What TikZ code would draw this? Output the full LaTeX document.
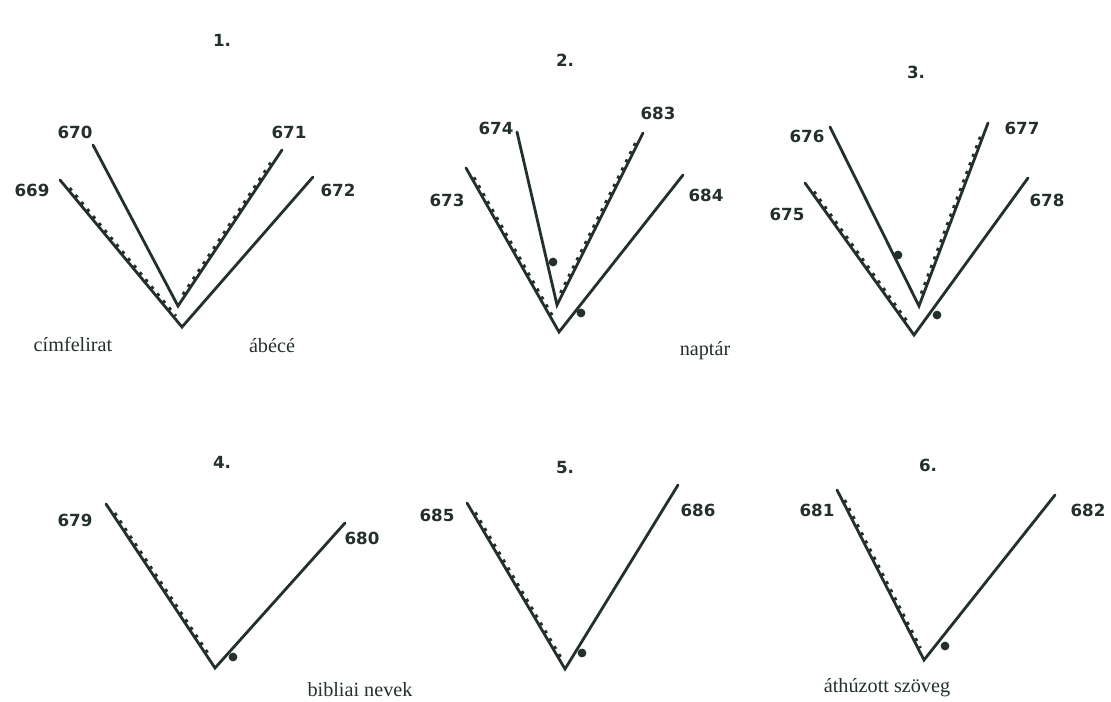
\documentclass[tikz,border=0pt]{standalone}
\usepackage{fontspec}
\setmainfont{Liberation Serif}
\newfontfamily\handfont{DejaVu Sans}
\definecolor{ink}{HTML}{24302C}
\begin{document}
\begin{tikzpicture}[x=0.02cm,y=-0.02cm,
  leaf/.style={draw=ink, line width=1.6pt, line cap=round},
  texture/.style={draw=ink, line width=2pt, dash pattern=on 1.8pt off 3.4pt, shorten <=7pt, shorten >=7pt},
  num/.style={font=\handfont\bfseries\fontsize{9.5}{11}\selectfont, text=ink, inner sep=0},
  capt/.style={font=\fontsize{11.5}{13}\selectfont, text=ink, inner sep=0},
  mark dot/.style={circle, fill=ink, inner sep=0, minimum size=5pt}]
\useasboundingbox[fill=white] (0,0) rectangle (1111,702);
% ---------- 1 ----------
\node[num] (h1) at (222,40) {1.};
\coordinate (a669) at (60,180);
\coordinate (a670) at (93,145);
\coordinate (v1i) at (178,306);
\coordinate (a671) at (282,150);
\coordinate (v1o) at (182,327);
\coordinate (a672) at (313,177);
\draw[leaf] (a670) -- (v1i) -- (a671);
\draw[leaf] (a669) -- (v1o) -- (a672);
\draw[texture] ([shift={(1.6,-1.3)}]a669) -- ([shift={(1.6,-1.3)}]v1o);
\draw[texture] ([shift={(-1.7,-1.1)}]v1i) -- ([shift={(-1.7,-1.1)}]a671);
\node[num] (l670) at (75,132) {670};
\node[num] (l671) at (289,132) {671};
\node[num] (l669) at (32,190) {669};
\node[num] (l672) at (338,190) {672};
\node[capt] (c1) at (73,344) {címfelirat};
\node[capt] (c2) at (272,346) {ábécé};
% ---------- 2 ----------
\node[num] (h2) at (565,60) {2.};
\coordinate (a673) at (466,168);
\coordinate (a674) at (517,132);
\coordinate (v2i) at (557,305);
\coordinate (a683) at (643,133);
\coordinate (v2o) at (559,332);
\coordinate (a684) at (683,175);
\draw[leaf] (a674) -- (v2i) -- (a683);
\draw[leaf] (a673) -- (v2o) -- (a684);
\draw[texture] ([shift={(1.6,-1.2)}]a673) -- ([shift={(1.6,-1.2)}]v2o);
\draw[texture] ([shift={(-1.8,-0.9)}]v2i) -- ([shift={(-1.8,-0.9)}]a683);
\node[mark dot] (d2a) at (553,262) {};
\node[mark dot] (d2b) at (581,313) {};
\node[num] (l674) at (496,128) {674};
\node[num] (l683) at (658,113) {683};
\node[num] (l673) at (447,200) {673};
\node[num] (l684) at (706,195) {684};
\node[capt] (c3) at (705,351) {naptár};
% ---------- 3 ----------
\node[num] (h3) at (916,72) {3.};
\coordinate (a675) at (805,183);
\coordinate (a676) at (830,127);
\coordinate (v3i) at (919,306);
\coordinate (a677) at (988,123);
\coordinate (v3o) at (914,335);
\coordinate (a678) at (1028,178);
\draw[leaf] (a676) -- (v3i) -- (a677);
\draw[leaf] (a675) -- (v3o) -- (a678);
\draw[texture] ([shift={(1.6,-1.3)}]a675) -- ([shift={(1.6,-1.3)}]v3o);
\draw[texture] ([shift={(-1.9,-0.8)}]v3i) -- ([shift={(-1.9,-0.8)}]a677);
\node[mark dot] (d3a) at (898,255) {};
\node[mark dot] (d3b) at (937,315) {};
\node[num] (l676) at (807,136) {676};
\node[num] (l677) at (1022,128) {677};
\node[num] (l675) at (787,214) {675};
\node[num] (l678) at (1047,200) {678};
% ---------- 4 ----------
\node[num] (h4) at (222,462) {4.};
\coordinate (a679) at (106,504);
\coordinate (v4) at (215,668);
\coordinate (a680) at (345,523);
\draw[leaf] (a679) -- (v4) -- (a680);
\draw[texture] ([shift={(1.7,-1.1)}]a679) -- ([shift={(1.7,-1.1)}]v4);
\node[mark dot] (d4) at (233,657) {};
\node[num] (l679) at (75,520) {679};
\node[num] (l680) at (362,538) {680};
\node[capt] (c4) at (360,690) {bibliai nevek};
% ---------- 5 ----------
\node[num] (h5) at (565,468) {5.};
\coordinate (a685) at (467,503);
\coordinate (v5) at (565,669);
\coordinate (a686) at (678,485);
\draw[leaf] (a685) -- (v5) -- (a686);
\draw[texture] ([shift={(1.8,-1.0)}]a685) -- ([shift={(1.8,-1.0)}]v5);
\node[mark dot] (d5) at (582,653) {};
\node[num] (l685) at (437,515) {685};
\node[num] (l686) at (698,510) {686};
% ---------- 6 ----------
\node[num] (h6) at (928,465) {6.};
\coordinate (a681) at (837,490);
\coordinate (v6) at (924,660);
\coordinate (a682) at (1055,495);
\draw[leaf] (a681) -- (v6) -- (a682);
\draw[texture] ([shift={(1.8,-0.9)}]a681) -- ([shift={(1.8,-0.9)}]v6);
\node[mark dot] (d6) at (945,646) {};
\node[num] (l681) at (817,510) {681};
\node[num] (l682) at (1088,510) {682};
\node[capt] (c6) at (887,688) {áthúzott szöveg};
\end{tikzpicture}
\end{document}
